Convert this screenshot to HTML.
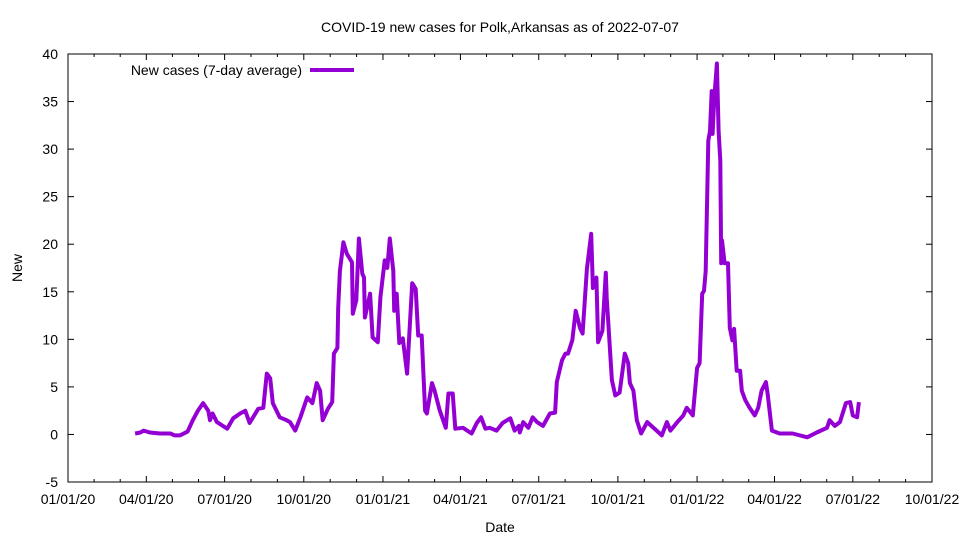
<!DOCTYPE html>
<html><head><meta charset="utf-8"><style>
body{margin:0;background:#fff}
svg text{font-family:"Liberation Sans",Arial,sans-serif;font-size:14px;fill:#000}
</style></head><body>
<svg id="chart" width="960" height="540" xmlns="http://www.w3.org/2000/svg">
<text x="500" y="32" text-anchor="middle">COVID-19 new cases for Polk,Arkansas as of 2022-07-07</text>
<text x="500" y="532" text-anchor="middle">Date</text>
<text transform="translate(22,268) rotate(-90)" text-anchor="middle">New</text>
<g id="axes"></g>
<g id="series"></g>
<g>
<text x="302" y="75" text-anchor="end">New cases (7-day average)</text>
<line x1="310" y1="70" x2="354" y2="70" stroke="#9400d3" stroke-width="4"/>
</g>
<rect x="68" y="54" width="864" height="428" fill="none" stroke="#000" stroke-width="1"/>
</svg>
<script>
// day offsets from 2020-01-01
const days=[78,84,88,95,107,119,124,130,139,145,151,157,163,165,168,173,185,192,200,206,211,221,227,231,235,238,246,254,258,264,270,278,284,289,293,296,302,307,309,313,314,316,320,324,330,331,335,338,342,344,345,351,354,360,363,368,371,374,378,379,382,385,389,394,400,404,407,411,415,417,423,426,432,439,442,447,450,459,469,475,480,485,490,498,505,514,519,524,525,529,535,540,545,552,560,566,568,574,578,581,586,590,595,598,603,608,610,614,616,621,625,626,632,636,641,647,651,653,657,661,666,673,684,690,696,700,708,715,719,726,731,734,737,739,741,744,746,748,749,751,754,756,758,759,760,763,767,769,772,774,777,781,783,787,792,798,802,806,811,813,818,827,842,859,870,882,885,891,897,904,909,912,917,919];
const cases=[0.1,0.2,0.4,0.2,0.1,0.1,-0.1,-0.1,0.3,1.5,2.5,3.3,2.5,1.5,2.2,1.3,0.6,1.7,2.2,2.5,1.2,2.7,2.8,6.4,5.9,3.3,1.8,1.5,1.3,0.4,1.8,3.9,3.3,5.4,4.6,1.5,2.7,3.4,8.5,9.1,13.3,17.2,20.2,19.0,18.1,12.7,14.1,20.6,16.9,16.5,12.3,14.8,10.2,9.7,14.4,18.3,17.5,20.6,17.2,13.0,14.8,9.6,10.1,6.4,15.9,15.3,10.4,10.4,2.5,2.2,5.4,4.6,2.5,0.7,4.3,4.3,0.6,0.7,0.1,1.2,1.8,0.6,0.7,0.4,1.2,1.7,0.4,0.9,0.2,1.3,0.7,1.8,1.3,0.9,2.2,2.3,5.5,7.8,8.5,8.5,9.9,13.0,11.2,10.6,17.4,21.1,15.4,16.5,9.7,10.9,17.0,14.4,5.7,4.1,4.4,8.5,7.5,5.4,4.6,1.5,0.1,1.3,0.4,-0.1,1.3,0.4,1.3,2.0,2.8,2.0,7.0,7.5,14.8,15.1,17.2,30.9,31.9,36.1,31.6,35.4,39.0,31.9,28.8,18.0,20.4,18.0,18.0,11.2,9.9,11.1,6.7,6.7,4.6,3.6,2.8,2.0,2.8,4.6,5.5,4.3,0.4,0.1,0.1,-0.3,0.2,0.7,1.5,0.9,1.3,3.3,3.4,2.0,1.8,3.4];
const yTicks=[-5,0,5,10,15,20,25,30,35,40];
const xTickLabels=["01/01/20","04/01/20","07/01/20","10/01/20","01/01/21","04/01/21","07/01/21","10/01/21","01/01/22","04/01/22","07/01/22","10/01/22"];
const xTickDays=[0,91,182,274,366,456,547,639,731,821,912,1004];

const L=68,R=932,T=54,B=482,D0=0,D1=1004,Y0=-5,Y1=40;
const NS="http://www.w3.org/2000/svg";
function xs(d){return L+(d-D0)/(D1-D0)*(R-L);}
function ys(v){return B-(v-Y0)/(Y1-Y0)*(B-T);}
function mk(tag,attrs,parent){const e=document.createElementNS(NS,tag);for(const k in attrs)e.setAttribute(k,attrs[k]);parent.appendChild(e);return e;}
const axes=document.getElementById('axes');
yTicks.forEach(v=>{
  const y=ys(v);
  const t1=mk('line',{x1:L,y1:y,x2:L+6,y2:y,stroke:'#000'},axes);
  
  
  const t2=mk('line',{x1:R-6,y1:y,x2:R,y2:y,stroke:'#000'},axes);
  
  
  const tx=mk('text',{x:L-10,y:y+5,'text-anchor':'end'},axes);
  tx.textContent=v;
  
  
});
xTickDays.forEach((d,i)=>{
  const x=xs(d);
  const t1=mk('line',{x1:x,y1:B,x2:x,y2:B-6,stroke:'#000'},axes);
  
  
  const t2=mk('line',{x1:x,y1:T,x2:x,y2:T+6,stroke:'#000'},axes);
  
  
  const tx=mk('text',{x:x,y:B+22,'text-anchor':'middle'},axes);
  tx.textContent=xTickLabels[i];
  
  
  if(i<xTickDays.length-1){
    const step=(xTickDays[i+1]-d)/3;
    for(let k=1;k<3;k++){
      const mx=xs(d+step*k);
      const m1=mk('line',{x1:mx,y1:B,x2:mx,y2:B-3,stroke:'#000'},axes);
      
      
      const m2=mk('line',{x1:mx,y1:T,x2:mx,y2:T+3,stroke:'#000'},axes);
      
      
    }
  }
});
const series=document.getElementById('series');
const pts=days.map((d,i)=>xs(d).toFixed(1)+','+ys(cases[i]).toFixed(1)).join(' ');
const pl=mk('polyline',{points:pts,fill:'none',stroke:'#9400d3','stroke-width':4,'stroke-linejoin':'round'},series);


</script>
</body></html>
